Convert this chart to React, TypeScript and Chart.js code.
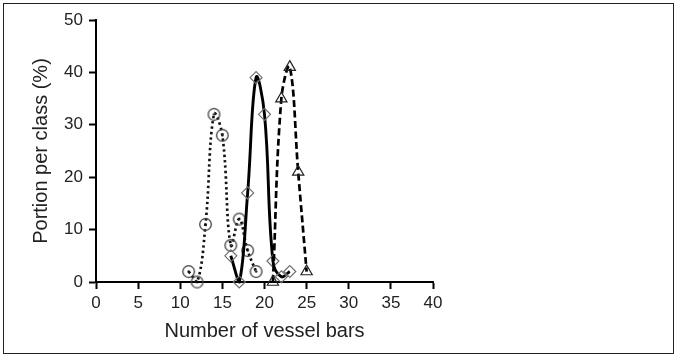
import React, { useEffect, useRef } from "react";
import { Chart, registerables } from "chart.js";

Chart.register(...registerables);

// Number of vessel bars (x) and portion per class (%) for each series
const circleX = [11, 12, 13, 14, 15, 16, 17, 18, 19];
const circleY = [2, 0, 11, 32, 28, 7, 12, 6, 2];

const diamondX = [16, 17, 18, 19, 20, 21, 22, 23];
const diamondY = [5, 0, 17, 39, 32, 4, 1, 2];

const triangleX = [21, 22, 23, 24, 25];
const triangleY = [0, 35, 41, 21, 2];

const xTitle = "Number of vessel bars";
const yTitle = "Portion per class (%)";

const toPoints = (xs: number[], ys: number[]) => xs.map((x, i) => ({ x, y: ys[i] }));

function makeDottedCircle(): HTMLCanvasElement {
  const c = document.createElement("canvas");
  c.width = 15;
  c.height = 15;
  const ctx = c.getContext("2d")!;
  ctx.strokeStyle = "#404040";
  ctx.lineWidth = 1.3;
  ctx.beginPath();
  ctx.arc(7.5, 7.5, 5.8, 0, Math.PI * 2);
  ctx.stroke();
  ctx.fillStyle = "#111";
  ctx.beginPath();
  ctx.arc(7.5, 7.5, 1.2, 0, Math.PI * 2);
  ctx.fill();
  return c;
}

export default function App() {
  const ref = useRef<HTMLCanvasElement | null>(null);

  useEffect(() => {
    if (!ref.current) return;
    const font = "'Liberation Sans', Arial, Helvetica, sans-serif";
    const circleImg = makeDottedCircle();
    const chart = new Chart(ref.current, {
      type: "line",
      data: {
        datasets: [
          {
            label: "A",
            data: toPoints(triangleX, triangleY),
            borderColor: "#000",
            borderWidth: 2.7,
            borderDash: [7, 3.5],
            tension: 0.4,
            pointStyle: "triangle",
            pointRadius: 6.5,
            pointBorderColor: "#222",
            pointBackgroundColor: "rgba(255,255,255,0)",
            pointBorderWidth: 1.2,
            clip: false,
          },
          {
            label: "B",
            data: toPoints(diamondX, diamondY),
            borderColor: "#000",
            borderWidth: 2.9,
            tension: 0.4,
            pointStyle: "rectRot",
            pointRadius: 6,
            pointBorderColor: "#707070",
            pointBackgroundColor: "rgba(255,255,255,0)",
            pointBorderWidth: 1.2,
            clip: false,
          },
          {
            label: "C",
            data: toPoints(circleX, circleY),
            borderColor: "#111",
            borderWidth: 2.7,
            borderDash: [2.4, 3],
            borderCapStyle: "butt",
            tension: 0.4,
            pointStyle: circleImg as any,
            pointRadius: 6,
            clip: false,
          },
        ],
      },
      options: {
        animation: false,
        responsive: false,
        devicePixelRatio: 1,
        layout: { padding: { left: 0, top: 20, right: 242, bottom: 0 } },
        plugins: {
          legend: { display: false },
          tooltip: { enabled: false },
        },
        scales: {
          x: {
            type: "linear",
            min: 0,
            max: 40,
            afterFit: (s: any) => {
              s.height = 73;
            },
            ticks: {
              stepSize: 5,
              padding: 4,
              color: "#222",
              font: { family: font, size: 17 },
              maxRotation: 0,
            },
            grid: {
              drawOnChartArea: false,
              drawTicks: true,
              tickLength: 7,
              tickColor: "#000",
              tickWidth: 2,
            },
            border: { display: true, color: "#000", width: 2 },
            title: {
              display: true,
              text: xTitle,
              color: "#222",
              font: { family: font, size: 20 },
              padding: { top: 0, bottom: 12 },
            },
          },
          y: {
            type: "linear",
            min: 0,
            max: 50,
            afterFit: (s: any) => {
              s.width = 96;
            },
            ticks: {
              stepSize: 10,
              padding: 6,
              color: "#222",
              font: { family: font, size: 17 },
            },
            grid: {
              drawOnChartArea: false,
              drawTicks: true,
              tickLength: 7,
              tickColor: "#000",
              tickWidth: 2,
            },
            border: { display: true, color: "#000", width: 2 },
            title: {
              display: true,
              text: yTitle,
              color: "#222",
              font: { family: font, size: 20 },
              padding: { top: 29, bottom: 0 },
            },
          },
        },
      },
    });
    return () => chart.destroy();
  }, []);

  return (
    <div
      style={{
        position: "fixed",
        left: 0,
        top: 0,
        width: 675,
        height: 355,
        background: "#fff",
      }}
    >
      <canvas ref={ref} width={675} height={355} style={{ display: "block" }} />
      <div
        style={{
          position: "absolute",
          left: 3,
          top: 3,
          width: 671,
          height: 351,
          border: "1.5px solid #222",
          boxSizing: "border-box",
          pointerEvents: "none",
        }}
      />
    </div>
  );
}
